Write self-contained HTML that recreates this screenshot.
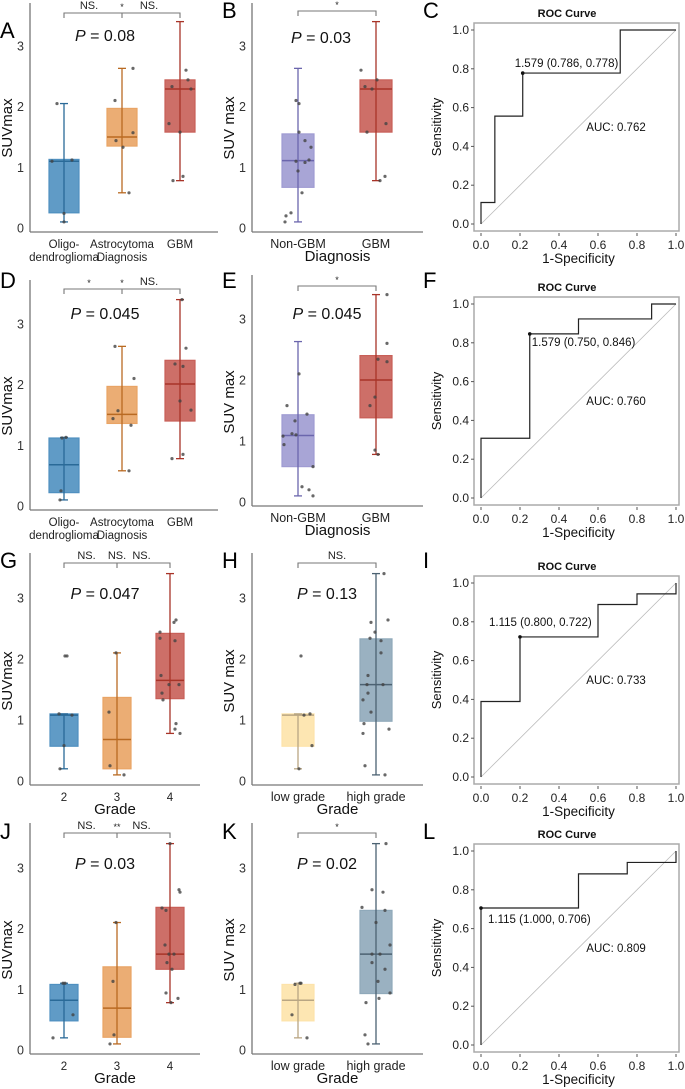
<!DOCTYPE html>
<html><head><meta charset="utf-8"><style>
html,body{margin:0;padding:0;background:#fff}
svg{display:block;font-family:"Liberation Sans",sans-serif}
</style></head><body>
<svg id="fig" width="685" height="1089" viewBox="0 0 685 1089"></svg>
<script>
// ---------- DATA ----------
const A_categories=["Oligo-|dendroglioma","Astrocytoma|Diagnosis","GBM"];
const A_q1=[0.25,1.35,1.58], A_med=[1.1,1.5,2.29], A_q3=[1.13,1.97,2.44], A_lo=[0.1,0.58,0.78], A_hi=[2.05,2.63,3.4];
const A_pts=[[2.05,1.1,1.12,0.24,0.1],[2.1,2.63,1.57,1.44,1.33,0.58],[2.6,2.44,2.33,2.29,1.72,1.58,0.85,0.78]];
const A_jit=[[-7,-12,8,0,0],[-7,11,11,-6,1,7],[6,8,-8,11,-11,0,3,-7]];
const B_categories=["Non-GBM","GBM"];
const B_q1=[0.67,1.58], B_med=[1.11,2.29], B_q3=[1.55,2.44], B_lo=[0.1,0.78], B_hi=[2.63,3.4];
const B_pts=[[2.1,2.05,1.58,1.44,1.33,1.12,1.1,1.08,0.94,0.58,0.25,0.2,0.1],[2.6,2.44,2.33,2.29,1.72,1.58,0.85,0.78]];
const B_jit=[[-2,1,1,7,13,11,-2,7,0,4,-7,-12,-13],[-15,1,-11,-4,10,-9,9,4]];
const D_q1=[0.22,1.36,1.4], D_med=[0.68,1.51,2.01], D_q3=[1.12,1.97,2.4], D_lo=[0.1,0.58,0.78], D_hi=[1.13,2.63,3.4];
const D_pts=[[1.12,1.13,0.25,0.1],[2.63,2.1,1.57,1.44,1.33,0.58],[3.4,2.6,2.34,2.3,1.73,1.58,0.85,0.78]];
const D_jit=[[-2,2,-3,-4],[-7,12,-4,-9,9,7],[2,6,-5,3,0,11,3,-8]];
const E_q1=[0.58,1.38], E_med=[1.09,2.0], E_q3=[1.43,2.4], E_lo=[0.1,0.78], E_hi=[2.63,3.4];
const E_pts=[[2.1,1.58,1.33,1.12,1.1,1.08,0.94,1.44,0.58,0.25,0.2,0.1],[3.4,2.6,2.34,2.3,1.72,1.58,0.85,0.78]];
const E_jit=[[1,-11,-3,-6,-2,-15,-14,9,15,4,11,15],[11,11,2,11,-1,-6,-1,2]];
const G_categories=["2","3","4"];
const G_q1=[0.57,0.2,1.35], G_med=[1.08,0.68,1.65], G_q3=[1.1,1.37,2.42], G_lo=[0.2,0.1,0.78], G_hi=[1.1,2.1,3.4];
const G_pts=[[2.05,2.05,1.1,1.08,0.58,0.2],[1.13,0.25,0.1,2.1],[2.64,2.6,2.44,2.34,2.3,1.73,1.58,1.58,1.44,1.33,0.94,0.85,0.78]];
const G_jit=[[1,3,-5,8,0,-4],[-8,-7,7,-1],[6,4,-10,-10,5,-9,-1,9,-8,-7,6,5,10]];
const H_categories=["low grade","high grade"];
const H_q1=[0.57,0.98], H_med=[1.08,1.58], H_q3=[1.1,2.33], H_lo=[0.2,0.1], H_hi=[1.1,3.4];
const H_pts=[[2.05,1.08,1.1,0.58,0.2],[3.4,2.64,2.6,2.44,2.34,2.3,2.1,1.73,1.58,1.58,1.44,1.33,1.13,0.94,0.85,0.78,0.25,0.1]];
const H_jit=[[3,6,12,14,1],[8,12,-5,-1,-6,5,5,-8,-9,7,-8,-13,-5,-12,13,-13,-11,9]];
const J_q1=[0.48,0.21,1.33], J_med=[0.82,0.69,1.58], J_q3=[1.08,1.37,2.35], J_lo=[0.2,0.1,0.78], J_hi=[1.1,2.1,3.4];
const J_pts=[[1.1,1.1,0.58,0.2],[2.1,1.13,0.25,0.1],[3.4,2.64,2.6,2.34,2.3,1.73,1.58,1.58,1.44,1.33,0.94,0.85,0.78]];
const J_jit=[[-1,1,9,-11],[-1,-4,-3,-7],[0,9,10,-8,-4,-5,-1,4,-3,2,-4,8,1]];
const K_q1=[0.48,0.93], K_med=[0.82,1.58], K_q3=[1.08,2.3], K_lo=[0.2,0.1], K_hi=[1.1,3.4];
const K_pts=[[1.08,1.1,1.1,0.58,0.2],[3.4,2.64,2.6,2.35,2.3,2.1,1.73,1.58,1.58,1.44,1.33,1.13,0.94,0.85,0.78,0.25,0.1]];
const K_jit=[[-3,2,3,-6,9],[10,-4,7,-14,9,0,14,4,-4,-4,9,2,14,3,-10,-11,-8]];
const yTicks=[0,1,2,3];
// ROC data: x = 1-specificity, y = sensitivity
const C_fpr=[0,0,0.071,0.071,0.214,0.214,0.714,0.714,1], C_tpr=[0,0.111,0.111,0.556,0.556,0.778,0.778,1,1];
const F_fpr=[0,0,0.25,0.25,0.5,0.5,0.875,0.875,1], F_tpr=[0,0.308,0.308,0.846,0.846,0.923,0.923,1,1];
const I_fpr=[0,0,0.2,0.2,0.6,0.6,0.8,0.8,1,1], I_tpr=[0,0.389,0.389,0.722,0.722,0.889,0.889,0.944,0.944,1];
const L_fpr=[0,0,0.5,0.5,0.75,0.75,1,1], L_tpr=[0,0.706,0.706,0.882,0.882,0.941,0.941,1];
const C_best=[0.214,0.778], F_best=[0.25,0.846], I_best=[0.2,0.722], L_best=[0,0.706];
const C_label="1.579 (0.786, 0.778)", F_label="1.579 (0.750, 0.846)", I_label="1.115 (0.800, 0.722)", L_label="1.115 (1.000, 0.706)";
const C_auc="AUC: 0.762", F_auc="AUC: 0.760", I_auc="AUC: 0.733", L_auc="AUC: 0.809";
const rocTicks=[0,0.2,0.4,0.6,0.8,1.0];

// ---------- RENDER ----------
const NS="http://www.w3.org/2000/svg", svg=document.getElementById('fig');
function el(tag,at,parent,txt){const e=document.createElementNS(NS,tag);for(const k in at)e.setAttribute(k,at[k]);if(txt!==undefined)e.textContent=txt;(parent||svg).appendChild(e);return e;}
const COL={blue:["#4f90c0","#2a6a98"],orange:["#e9a465","#b96a22"],red:["#c85f58","#a83428"],purple:["#9f9bd2","#6b66ad"],yellow:["#fde3aa","#b9a683"],slate:["#8fa9ba","#4c6272"]};

function boxPanel(o){
  const g=el('g',{});
  
  
  const Y=v=>o.y0-v*o.k;
  const ax=el('line',{x1:o.ax,y1:o.top,x2:o.ax,y2:o.y0+4,stroke:"#777","stroke-width":1.3},g);
  
  const xa=el('line',{x1:o.ax,y1:o.y0+4,x2:o.xend,y2:o.y0+4,stroke:"#777","stroke-width":1.3},g);
  
  yTicks.forEach(t=>{
    const tl=el('text',{x:o.ax-6,y:Y(t)+4.5,"font-size":12.5,"text-anchor":"end",fill:"#333"},g,String(t));
    
  });
  const catfs=o.cats.length>2?11.5:12.5;
  o.cats.forEach((c,i)=>{
    const cx=o.cx[i],col=COL[o.colors[i]],w=o.bw;
    const b=el('rect',{x:cx-w/2,y:Y(o.q3[i]),width:w,height:Y(o.q1[i])-Y(o.q3[i]),fill:col[0],"fill-opacity":0.9,stroke:col[0],"stroke-width":1.2},g);
    
    el('line',{x1:cx,y1:Y(o.hi[i]),x2:cx,y2:Y(o.lo[i]),stroke:col[1],"stroke-width":1.3},g);
    el('line',{x1:cx-4,y1:Y(o.hi[i]),x2:cx+4,y2:Y(o.hi[i]),stroke:col[1],"stroke-width":1.3},g);
    el('line',{x1:cx-4,y1:Y(o.lo[i]),x2:cx+4,y2:Y(o.lo[i]),stroke:col[1],"stroke-width":1.3},g);
    const m=el('line',{x1:cx-w/2,y1:Y(o.med[i]),x2:cx+w/2,y2:Y(o.med[i]),stroke:col[1],"stroke-width":1.5},g);
    
    o.pts[i].forEach((v,j)=>{
      const p=el('circle',{cx:cx+o.jit[i][j],cy:Y(v),r:1.6,fill:"#444","fill-opacity":0.8},g);
      
    });
    c.split('|').forEach((ln,li)=>{
      const t=el('text',{x:cx,y:o.y0+20+li*13,"font-size":catfs,"text-anchor":"middle",fill:"#222"},g,ln);
      
    });
  });
  const by=o.by,c0=o.cx[0],cN=o.cx[o.cx.length-1];
  const br=el('path',{d:`M${c0},${by+5}V${by}H${cN}V${by+5}`+(o.cx.length>2?`M${o.cx[1]},${by}V${by+5}`:''),fill:"none",stroke:"#777","stroke-width":1.1},g);
  
  o.sig.forEach((s,i)=>{
    const x=o.cx.length>2?[(o.cx[0]+o.cx[1])/2-4,o.cx[1],(o.cx[1]+o.cx[2])/2-2][i]:(c0+cN)/2;
    const t=el('text',{x:x,y:s.indexOf('*')>=0?by-3:by-4,"font-size":s.indexOf('*')>=0?9:11,"text-anchor":"middle",fill:"#222"},g,s);
    
  });
  const pt=el('text',{x:o.px,y:o.py,"font-size":16,"text-anchor":"middle",fill:"#111"},g);
  
  el('tspan',{"font-style":"italic"},pt,"P");el('tspan',{},pt," = "+o.p);
  const yt=el('text',{x:0,y:0,"font-size":15,"text-anchor":"middle",fill:"#111",transform:`translate(${o.ax-18},${o.y0-100}) rotate(-90)`},g,o.ytitle);
  
  if(o.xtitle){const xt=el('text',{x:(o.ax+o.xend)/2,y:o.y0+33,"font-size":15,"text-anchor":"middle",fill:"#111"},g,o.xtitle);
    }
  const L=el('text',{x:o.lx,y:o.ly,"font-size":22,fill:"#000"},g,o.letter);
  
}

function rocPanel(o){
  const g=el('g',{});
  
  
  const X=v=>481+v*195, Y=v=>o.y0-v*194;
  const fr=el('rect',{x:474,y:Y(1)-7,width:205,height:208,fill:"none",stroke:"#aaa","stroke-width":1.5},g);
  
  const tt=el('text',{x:567,y:Y(1)-13,"font-size":11,"font-weight":"bold","text-anchor":"middle",fill:"#111"},g,"ROC Curve");
  
  rocTicks.forEach(t=>{
    el('line',{x1:474,y1:Y(t),x2:471,y2:Y(t),stroke:"#555"},g);
    const a=el('text',{x:469,y:Y(t)+4,"font-size":12,"text-anchor":"end",fill:"#222"},g,t.toFixed(1));
    
    el('line',{x1:X(t),y1:Y(0)+9,x2:X(t),y2:Y(0)+12,stroke:"#555"},g);
    const b=el('text',{x:X(t),y:Y(0)+25,"font-size":12,"text-anchor":"middle",fill:"#222"},g,t.toFixed(1));
    
  });
  const d=el('line',{x1:X(0),y1:Y(0),x2:X(1),y2:Y(1),stroke:"#bbb","stroke-width":0.8},g);
  
  const path=o.fpr.map((v,i)=>(i?'L':'M')+X(v)+','+Y(o.tpr[i])).join('');
  const c=el('path',{d:path,fill:"none",stroke:"#222","stroke-width":1.2},g);
  
  const bp=el('circle',{cx:X(o.best[0]),cy:Y(o.best[1]),r:1.8,fill:"#111"},g);
  
  const lb=el('text',{x:X(o.best[0])+o.dx,y:Y(o.best[1])+o.dy,"font-size":11.5,fill:"#111"},g,o.label);
  
  const au=el('text',{x:X(0.54),y:Y(0.5)+4,"font-size":11.5,fill:"#111"},g,o.auc);
  
  const yt=el('text',{x:0,y:0,"font-size":13,"text-anchor":"middle",fill:"#111",transform:`translate(441,${Y(0.5)}) rotate(-90)`},g,"Sensitivity");
  
  const xt=el('text',{x:X(0.5),y:Y(0)+39,"font-size":13.5,"text-anchor":"middle",fill:"#111"},g,"1-Specificity");
  
  const L=el('text',{x:423,y:o.ly,"font-size":22,fill:"#000"},g,o.letter);
  
}

const K=60.7, L3=[64,122,180], G3=[64,117,170], M2=[298,376];
boxPanel({name:'panel-a',letter:'A',lx:0,ly:38,y0:228,k:K,ax:30,xend:218,top:3,cx:L3,bw:30,cats:A_categories,q1:A_q1,med:A_med,q3:A_q3,lo:A_lo,hi:A_hi,pts:A_pts,jit:A_jit,colors:['blue','orange','red'],by:13,sig:['NS.','*','NS.'],px:105,py:41,p:'0.08',ytitle:'SUVmax'});
boxPanel({name:'panel-b',letter:'B',lx:222,ly:18,y0:228,k:K,ax:252,xend:423,top:3,cx:M2,bw:32,cats:B_categories,q1:B_q1,med:B_med,q3:B_q3,lo:B_lo,hi:B_hi,pts:B_pts,jit:B_jit,colors:['purple','red'],by:11,sig:['*'],px:321,py:43,p:'0.03',ytitle:'SUV max',xtitle:'Diagnosis'});
rocPanel({name:'panel-c',letter:'C',ly:18,y0:224,fpr:C_fpr,tpr:C_tpr,best:C_best,label:C_label,auc:C_auc,dx:-8,dy:-6});
boxPanel({name:'panel-d',letter:'D',lx:0,ly:288,y0:506,k:K,ax:30,xend:218,top:280,cx:L3,bw:30,cats:A_categories,q1:D_q1,med:D_med,q3:D_q3,lo:D_lo,hi:D_hi,pts:D_pts,jit:D_jit,colors:['blue','orange','red'],by:289,sig:['*','*','NS.'],px:105,py:319,p:'0.045',ytitle:'SUVmax'});
boxPanel({name:'panel-e',letter:'E',lx:222,ly:288,y0:502,k:61,ax:252,xend:423,top:275,cx:M2,bw:32,cats:B_categories,q1:E_q1,med:E_med,q3:E_q3,lo:E_lo,hi:E_hi,pts:E_pts,jit:E_jit,colors:['purple','red'],by:286,sig:['*'],px:327,py:319,p:'0.045',ytitle:'SUV max',xtitle:'Diagnosis'});
rocPanel({name:'panel-f',letter:'F',ly:288,y0:498,fpr:F_fpr,tpr:F_tpr,best:F_best,label:F_label,auc:F_auc,dx:2,dy:12});
boxPanel({name:'panel-g',letter:'G',lx:0,ly:568,y0:781,k:61,ax:30,xend:200,top:553,cx:G3,bw:28,cats:G_categories,q1:G_q1,med:G_med,q3:G_q3,lo:G_lo,hi:G_hi,pts:G_pts,jit:G_jit,colors:['blue','orange','red'],by:563,sig:['NS.','NS.','NS.'],px:105,py:599,p:'0.047',ytitle:'SUVmax',xtitle:'Grade'});
boxPanel({name:'panel-h',letter:'H',lx:222,ly:568,y0:781,k:61,ax:252,xend:423,top:553,cx:M2,bw:32,cats:H_categories,q1:H_q1,med:H_med,q3:H_q3,lo:H_lo,hi:H_hi,pts:H_pts,jit:H_jit,colors:['yellow','slate'],by:563,sig:['NS.'],px:327,py:599,p:'0.13',ytitle:'SUV max',xtitle:'Grade'});
rocPanel({name:'panel-i',letter:'I',ly:568,y0:777,fpr:I_fpr,tpr:I_tpr,best:I_best,label:I_label,auc:I_auc,dx:-31,dy:-11});
boxPanel({name:'panel-j',letter:'J',lx:0,ly:839,y0:1050,k:K,ax:30,xend:200,top:823,cx:G3,bw:28,cats:G_categories,q1:J_q1,med:J_med,q3:J_q3,lo:J_lo,hi:J_hi,pts:J_pts,jit:J_jit,colors:['blue','orange','red'],by:833,sig:['NS.','**','NS.'],px:105,py:869,p:'0.03',ytitle:'SUVmax',xtitle:'Grade'});
boxPanel({name:'panel-k',letter:'K',lx:222,ly:839,y0:1050,k:K,ax:252,xend:423,top:823,cx:M2,bw:32,cats:H_categories,q1:K_q1,med:K_med,q3:K_q3,lo:K_lo,hi:K_hi,pts:K_pts,jit:K_jit,colors:['yellow','slate'],by:833,sig:['*'],px:327,py:869,p:'0.02',ytitle:'SUV max',xtitle:'Grade'});
rocPanel({name:'panel-l',letter:'L',ly:839,y0:1045,fpr:L_fpr,tpr:L_tpr,best:L_best,label:L_label,auc:L_auc,dx:7,dy:15});
</script>
</body></html>
